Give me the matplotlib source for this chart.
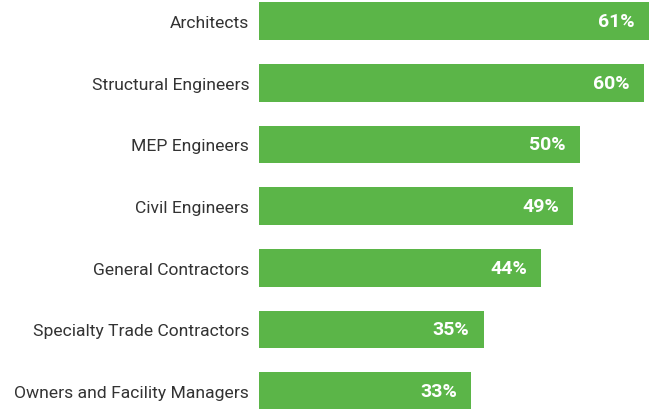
import matplotlib
matplotlib.use("Agg")
import matplotlib.pyplot as plt

categories = ["Architects", "Structural Engineers", "MEP Engineers", "Civil Engineers",
              "General Contractors", "Specialty Trade Contractors", "Owners and Facility Managers"]
values = [61, 60, 50, 49, 44, 35, 33]
value_labels = ["61%", "60%", "50%", "49%", "44%", "35%", "33%"]

plt.rcParams['font.family'] = ['Roboto', 'DejaVu Sans']
fig = plt.figure(figsize=(6.49, 4.10), dpi=100)
ax = fig.add_axes([259/649, 0, 390/649, 1])
green = "#5BB548"
ypos = list(range(len(categories)))
ax.barh(ypos, values, height=0.61, color=green)
xmax = 60.8
ax.set_xlim(0, xmax)
ax.set_ylim(6.29, -0.357)
ax.set_yticks(ypos)
ax.set_yticklabels(categories, fontsize=12.6, color="#333333")
ax.tick_params(axis='y', length=0, pad=7)
ax.set_xticks([])
for s in ax.spines.values():
    s.set_visible(False)
for y, v, lab in zip(ypos, values, value_labels):
    xe = min(v, xmax)
    ax.annotate(lab, (xe, y), xytext=(-10, 0), textcoords="offset points",
                ha="right", va="center", color="white", fontsize=14, fontweight="bold")
fig.savefig("out.png", dpi=100)
